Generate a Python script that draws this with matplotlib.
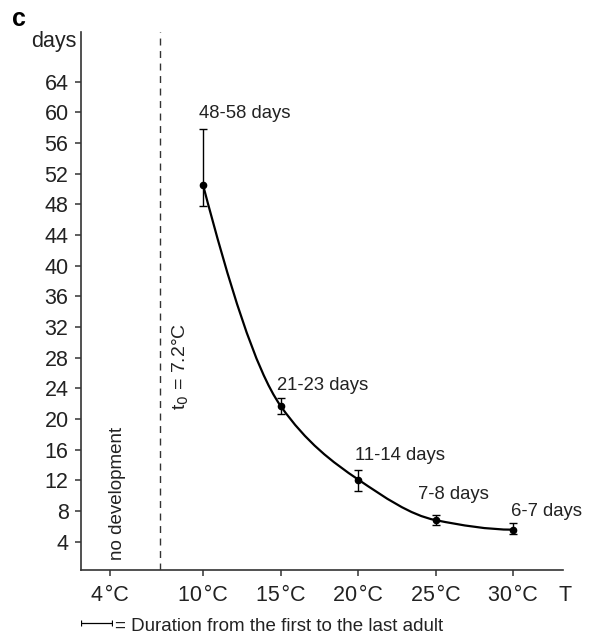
import numpy as np
import matplotlib.pyplot as plt
from matplotlib.path import Path
from matplotlib.patches import PathPatch

plt.rcParams['font.family'] = ['Liberation Sans', 'DejaVu Sans']

# temperatures (deg C) and mean duration (days)
temps = np.array([10, 15, 20, 25, 30])
days_mean = np.array([50.5, 21.7, 12.1, 6.8, 5.56])
days_low = np.array([47.8, 20.7, 10.6, 6.2, 5.0])
days_high = np.array([57.8, 22.8, 13.3, 7.5, 6.4])
range_labels = ['48-58 days', '21-23 days', '11-14 days', '7-8 days', '6-7 days']
xtick_vals = [4, 10, 15, 20, 25, 30]
xtick_labels = ['4\u200a\u00b0C', '10\u200a\u00b0C', '15\u200a\u00b0C',
                '20\u200a\u00b0C', '25\u200a\u00b0C', '30\u200a\u00b0C']
ytick_vals = list(range(4, 65, 4))
t0 = 7.2


def pchip_slopes(x, y):
    # monotone (Fritsch-Carlson) tangents for a smooth curve through the points
    h = np.diff(x)
    d = np.diff(y) / h
    m = np.zeros_like(y, dtype=float)
    for i in range(1, len(y) - 1):
        if d[i - 1] * d[i] > 0:
            m[i] = 2.0 / (1.0 / d[i - 1] + 1.0 / d[i])
    m0 = ((2 * h[0] + h[1]) * d[0] - h[0] * d[1]) / (h[0] + h[1])
    mn = ((2 * h[-1] + h[-2]) * d[-1] - h[-1] * d[-2]) / (h[-1] + h[-2])
    m[0] = m0 if m0 * d[0] > 0 else 0
    m[-1] = mn if mn * d[-1] > 0 else 0
    return m


fig = plt.figure(figsize=(5.94, 6.36), dpi=100)
ax = fig.add_axes([0.1364, 0.1038, 0.8114, 0.8459])

# smooth curve through the means (cubic hermite as bezier segments)
slopes = pchip_slopes(temps, days_mean)
verts = [(temps[0], days_mean[0])]
codes = [Path.MOVETO]
for i in range(len(temps) - 1):
    h = temps[i + 1] - temps[i]
    verts += [(temps[i] + h / 3, days_mean[i] + h / 3 * slopes[i]),
              (temps[i + 1] - h / 3, days_mean[i + 1] - h / 3 * slopes[i + 1]),
              (temps[i + 1], days_mean[i + 1])]
    codes += [Path.CURVE4] * 3
ax.add_patch(PathPatch(Path(verts, codes), fill=False, lw=1.6, color='black'))

yerr = [days_mean - days_low, days_high - days_mean]
ax.errorbar(temps, days_mean, yerr=yerr, fmt='o', color='black', ms=4.5,
            elinewidth=1.0, capsize=3, capthick=1.0)

# range labels (left edge, centre height)
label_pos = [(9.72, 59.9), (14.74, 24.4), (19.76, 15.3), (23.88, 10.1), (29.85, 7.95)]
for (x, y), txt in zip(label_pos, range_labels):
    ax.text(x, y, txt, ha='left', va='center', fontsize=13.3, color='#222222')

ax.axvline(t0, color='#333333', lw=1.0, ls=(0, (5, 4)))
ax.text(8.55, 21.2, 't$_0$ = 7.2\u00b0C', rotation=90, ha='center', va='bottom',
        fontsize=14, color='#222222')
ax.text(4.45, 1.6, 'no development', rotation=90, ha='center', va='bottom',
        fontsize=13.5, color='#222222')

ax.set_xlim(2.13, 33.2)
ax.set_ylim(0.3, 70.5)
ax.set_xticks(xtick_vals)
ax.set_xticklabels(xtick_labels)
ax.set_yticks(ytick_vals)
for s in ['top', 'right']:
    ax.spines[s].set_visible(False)
for s in ['left', 'bottom']:
    ax.spines[s].set_linewidth(1.2)
    ax.spines[s].set_color('#333333')
ax.tick_params(direction='out', length=4.5, width=1.1, labelsize=15.5,
               colors='#333333', labelcolor='#222222', pad=4.5)
ax.tick_params(axis='x', pad=6)

fig.text(0.128, 0.934, 'days', ha='right', va='center', fontsize=15.5, color='#222222')
fig.text(0.951, 0.064, 'T', ha='center', va='center', fontsize=15.5, color='#222222')
fig.text(0.021, 0.970, 'c', ha='left', va='center', fontsize=18, fontweight='bold')

# footer legend for the error bar
leg = fig.add_axes([0.136, 0.005, 0.052, 0.03])
leg.axis('off')
leg.set_xlim(0, 1)
leg.set_ylim(0, 1)
leg.errorbar([0.5], [0.5], xerr=[[0.5], [0.5]], fmt='none', color='black',
             elinewidth=0.9, capsize=2.5, capthick=0.9)
fig.text(0.193, 0.0157, '= Duration from the first to the last adult', ha='left',
         va='center', fontsize=13.5, color='#222222')

fig.savefig('out.png', dpi=100)
